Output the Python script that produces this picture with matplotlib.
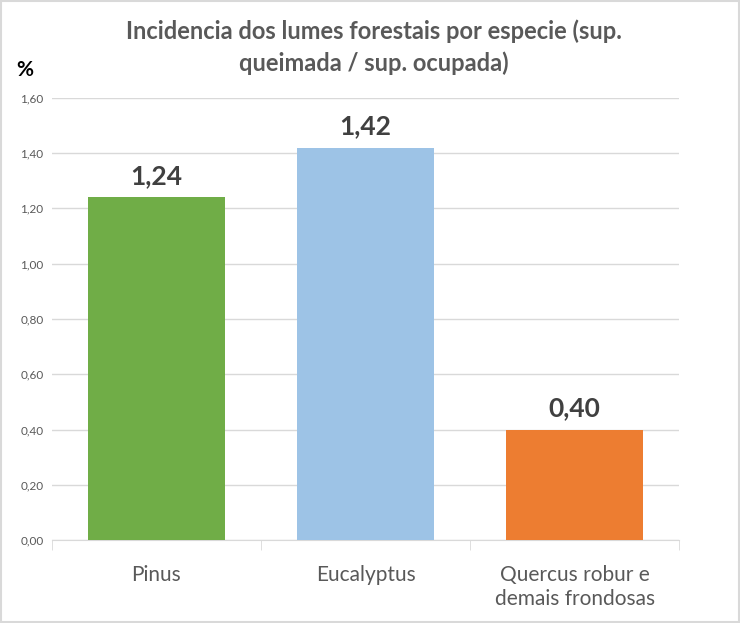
import numpy as np
import matplotlib.pyplot as plt
from matplotlib.patches import Rectangle
from matplotlib.ticker import FuncFormatter

# Chart data
species = ["Pinus", "Eucalyptus", "Quercus robur e\ndemais frondosas"]
incidence = [1.24, 1.42, 0.40]
bar_colors = ["#70AD47", "#9DC3E6", "#ED7D31"]
y_ticks = [0.0, 0.2, 0.4, 0.6, 0.8, 1.0, 1.2, 1.4, 1.6]

plt.rcParams['font.family'] = ['Lato', 'DejaVu Sans']

fig = plt.figure(figsize=(7.4, 6.23), dpi=100)
ax = fig.add_axes([0.070, 0.133, 0.848, 0.710])

x = np.arange(len(species))
bars = ax.bar(x, incidence, width=0.655, color=bar_colors, zorder=3)

# value labels above bars
for b, v in zip(bars, incidence):
    ax.text(b.get_x() + b.get_width() / 2, v + 0.035, f"{v:.2f}".replace(".", ","),
            ha="center", va="bottom", fontsize=19, fontweight="bold", color="#404040")

ax.set_xlim(-0.5, len(species) - 0.5)
ax.set_ylim(0, 1.6)
ax.set_yticks(y_ticks)
ax.yaxis.set_major_formatter(FuncFormatter(lambda v, p: f"{v:.2f}".replace(".", ",")))
ax.tick_params(axis="y", length=0, labelsize=8.5, labelcolor="#595959", pad=6)
ax.grid(axis="y", color="#D9D9D9", linewidth=1, zorder=0)

ax.set_xticks(x)
ax.set_xticklabels(species, fontsize=15, color="#595959", linespacing=1.25)
ax.set_xticks([-0.5, 0.5, 1.5, 2.5], minor=True)
ax.tick_params(axis="x", which="major", length=0, pad=18)
ax.tick_params(axis="x", which="minor", length=7, color="#D9D9D9")

for side in ["top", "right", "left"]:
    ax.spines[side].set_visible(False)
ax.spines["bottom"].set_color("#D9D9D9")

fig.text(0.505, 0.924, "Incidencia dos lumes forestais por especie (sup.\nqueimada / sup. ocupada)",
         ha="center", va="center", fontsize=17, fontweight="bold", color="#595959",
         linespacing=1.45)
fig.text(0.034, 0.887, "%", ha="center", va="center", fontsize=15, fontweight="bold", color="#000000")

# light border around the whole chart
fig.patches.append(Rectangle((0.002, 0.002), 0.996, 0.996, transform=fig.transFigure,
                             fill=False, edgecolor="#D9D9D9", linewidth=1.5))

fig.savefig("out.png", dpi=100)
